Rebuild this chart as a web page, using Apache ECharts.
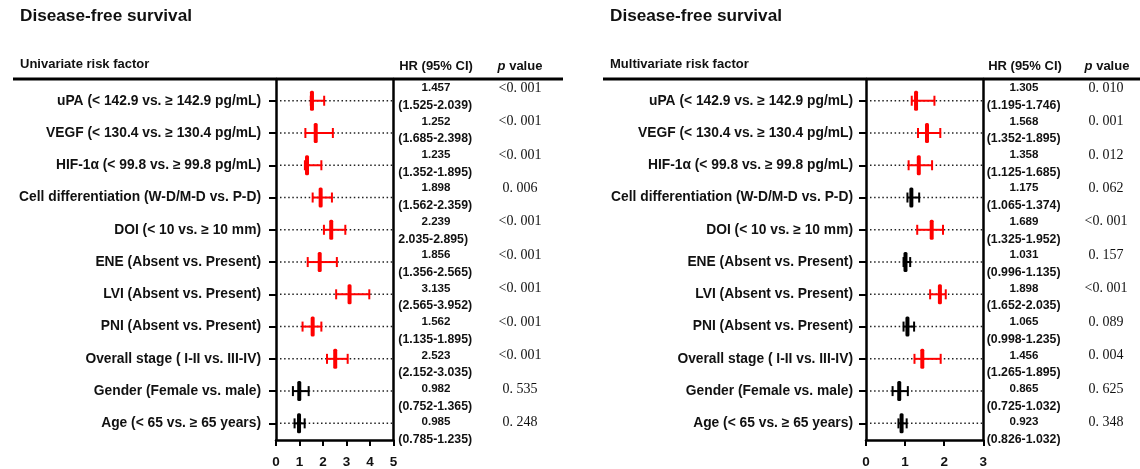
<!DOCTYPE html>
<html>
<head>
<meta charset="utf-8">
<script src="https://cdn.jsdelivr.net/npm/echarts@6/dist/echarts.min.js"></script>
<style>
html,body{margin:0;padding:0;background:#fff;}
#chart{width:1140px;height:469px;}
</style>
</head>
<body>
<div id="chart"></div>
<script>
// ---------- data ----------
const panelTitle = 'Disease-free survival';
const uniHeader = 'Univariate risk factor';
const multiHeader = 'Multivariate risk factor';
const categories = [
  'uPA (< 142.9 vs. ≥ 142.9 pg/mL)',
  'VEGF (< 130.4 vs. ≥ 130.4 pg/mL)',
  'HIF-1α (< 99.8 vs. ≥ 99.8 pg/mL)',
  'Cell differentiation (W-D/M-D vs. P-D)',
  'DOI (< 10 vs. ≥ 10 mm)',
  'ENE (Absent vs. Present)',
  'LVI (Absent vs. Present)',
  'PNI (Absent vs. Present)',
  'Overall stage ( I-II vs. III-IV)',
  'Gender (Female vs. male)',
  'Age (< 65 vs. ≥ 65 years)'
];
// univariate (plotted values)
const uniHR  = [1.53, 1.69, 1.32, 1.90, 2.35, 1.86, 3.13, 1.56, 2.52, 0.99, 0.98];
const uniLo  = [1.48, 1.25, 1.23, 1.56, 2.04, 1.35, 2.56, 1.13, 2.17, 0.72, 0.79];
const uniHi  = [2.05, 2.42, 1.93, 2.38, 2.95, 2.59, 3.97, 1.93, 3.05, 1.39, 1.22];
const uniSig = [1, 1, 1, 1, 1, 1, 1, 1, 1, 0, 0];
const uniHRText = ['1.457','1.252','1.235','1.898','2.239','1.856','3.135','1.562','2.523','0.982','0.985'];
const uniCIText = ['(1.525-2.039)','(1.685-2.398)','(1.352-1.895)','(1.562-2.359)','2.035-2.895)','(1.356-2.565)','(2.565-3.952)','(1.135-1.895)','(2.152-3.035)','(0.752-1.365)','(0.785-1.235)'];
const uniPText = ['<0. 001','<0. 001','<0. 001','0. 006','<0. 001','<0. 001','<0. 001','<0. 001','<0. 001','0. 535','0. 248'];
// multivariate
const multiHR  = [1.28, 1.56, 1.35, 1.16, 1.68, 1.01, 1.89, 1.06, 1.44, 0.85, 0.91];
const multiLo  = [1.17, 1.33, 1.09, 1.06, 1.31, 0.96, 1.64, 0.96, 1.24, 0.68, 0.83];
const multiHi  = [1.75, 1.90, 1.69, 1.36, 1.97, 1.13, 2.04, 1.23, 1.91, 1.07, 1.04];
const multiSig = [1, 1, 1, 0, 1, 0, 1, 0, 1, 0, 0];
const multiHRText = ['1.305','1.568','1.358','1.175','1.689','1.031','1.898','1.065','1.456','0.865','0.923'];
const multiCIText = ['(1.195-1.746)','(1.352-1.895)','(1.125-1.685)','(1.065-1.374)','(1.325-1.952)','(0.996-1.135)','(1.652-2.035)','(0.998-1.235)','(1.265-1.895)','(0.725-1.032)','(0.826-1.032)'];
const multiPText = ['0. 010','0. 001','0. 012','0. 062','<0. 001','0. 157','<0. 001','0. 089','0. 004','0. 625','0. 348'];
const uniTicks = [0, 5, 1];    // min, max, interval
const multiTicks = [0, 3, 1];

// ---------- build ----------
const SANS = 'Liberation Sans, Arial, sans-serif';
const SERIF = 'Liberation Serif, Times New Roman, serif';
const RED = '#ff0000';
const INK = '#111111';

function rows(hr, lo, hi, sig) {
  return hr.map((v, i) => [v, lo[i], hi[i], i, sig[i]]);
}

function makeRender(xMax) {
  return function (params, api) {
    const y = api.value(3);
    const col = api.value(4) ? RED : '#000000';
    const pC = api.coord([api.value(0), y]);
    const pL = api.coord([api.value(1), y]);
    const pH = api.coord([api.value(2), y]);
    const p0 = api.coord([0, y]);
    const pM = api.coord([xMax, y]);
    return {
      type: 'group',
      children: [
        { type: 'line', shape: { x1: p0[0] + 4, y1: p0[1], x2: pM[0] - 1, y2: pM[1] },
          style: { stroke: '#222', lineWidth: 1.5, lineDash: [1.5, 2.6] } },
        { type: 'line', shape: { x1: pL[0], y1: pL[1], x2: pH[0], y2: pH[1] },
          style: { stroke: col, lineWidth: 2 } },
        { type: 'line', shape: { x1: pL[0], y1: pL[1] - 5, x2: pL[0], y2: pL[1] + 5 },
          style: { stroke: col, lineWidth: 2 } },
        { type: 'line', shape: { x1: pH[0], y1: pH[1] - 5, x2: pH[0], y2: pH[1] + 5 },
          style: { stroke: col, lineWidth: 2 } },
        { type: 'rect', shape: { x: pC[0] - 2, y: pC[1] - 10, width: 4, height: 20, r: 1.5 },
          style: { fill: col } }
      ]
    };
  };
}

function panel(base, left, width, ticks, hrText, ciText, pText, hrMargin, ciMargin, pMargin, labelMargin) {
  const grids = [
    { left: left, top: 79, width: width, height: 365 },
    { left: left, top: 84.6, width: width, height: 354.9 },
    { left: left, top: 71.3, width: width, height: 367.7 }
  ];
  const g0 = base, g1 = base + 1, g2 = base + 2;
  const xAxes = [
    { gridIndex: g0, type: 'value', min: ticks[0], max: ticks[1], interval: ticks[2], position: 'bottom',
      axisLine: { show: true, lineStyle: { color: '#000', width: 2.5 } },
      axisTick: { show: true, length: 6, lineStyle: { color: '#000', width: 2 } },
      axisLabel: { show: true, color: INK, fontFamily: SANS, fontWeight: 'bold', fontSize: 13.5, margin: 15 },
      splitLine: { show: false } },
    { gridIndex: g1, type: 'value', min: ticks[0], max: ticks[1], show: false },
    { gridIndex: g2, type: 'value', min: 0, max: 1, show: false }
  ];
  const plainY = { axisTick: { show: false }, axisLabel: { show: false }, splitLine: { show: false } };
  const textY = (data, align, margin, font, size, weight, lh) => ({
    gridIndex: g2, type: 'category', inverse: true, position: 'right', data: data,
    axisLine: { show: false }, axisTick: { show: false }, splitLine: { show: false },
    axisLabel: { show: true, interval: 0, align: align, margin: margin, color: INK,
      fontFamily: font, fontSize: size, fontWeight: weight, lineHeight: lh, verticalAlign: 'middle',
      formatter: lh ? (v => '\n' + v) : (v => v) }
  });
  const yAxes = [
    Object.assign({ gridIndex: g0, type: 'value', min: 0, max: 1, position: 'left',
      axisLine: { show: true, lineStyle: { color: '#000', width: 2.5 } } }, plainY),
    Object.assign({ gridIndex: g0, type: 'value', min: 0, max: 1, position: 'right',
      axisLine: { show: true, lineStyle: { color: '#000', width: 2.5 } } }, plainY),
    { gridIndex: g1, type: 'category', inverse: true, data: categories, position: 'left',
      axisLine: { show: false },
      axisTick: { show: true, alignWithLabel: true, length: 7, lineStyle: { color: '#000', width: 2 } },
      axisLabel: { show: true, interval: 0, margin: labelMargin, color: INK, fontFamily: SANS,
        fontWeight: 'bold', fontSize: 13.8 },
      splitLine: { show: false } },
    textY(hrText, 'center', hrMargin, SANS, 11.6, 'bold', 0),
    textY(ciText, 'left', ciMargin, SANS, 12.3, 'bold', 35),
    textY(pText, 'center', pMargin, SERIF, 14, 'normal', 0)
  ];
  return { grids, xAxes, yAxes };
}

const L = panel(0, 276, 117.5, uniTicks, uniHRText, uniCIText, uniPText, 42.5, 4.8, 126.5, 15);
const R = panel(3, 866, 117.3, multiTicks, multiHRText, multiCIText, multiPText, 40.7, 3.4, 122.7, 13);

const option = {
  backgroundColor: '#fff',
  animation: false,
  grid: L.grids.concat(R.grids),
  xAxis: L.xAxes.concat(R.xAxes),
  yAxis: L.yAxes.concat(R.yAxes),
  series: [
    { type: 'custom', xAxisIndex: 1, yAxisIndex: 2, renderItem: makeRender(uniTicks[1]),
      encode: { x: [0, 1, 2], y: 3 }, data: rows(uniHR, uniLo, uniHi, uniSig), clip: false },
    { type: 'custom', xAxisIndex: 4, yAxisIndex: 8, renderItem: makeRender(multiTicks[1]),
      encode: { x: [0, 1, 2], y: 3 }, data: rows(multiHR, multiLo, multiHi, multiSig), clip: false }
  ],
  graphic: [
    { type: 'text', left: 20, top: 8, style: { text: panelTitle, font: 'bold 17.2px ' + SANS, fill: INK } },
    { type: 'text', left: 610, top: 8, style: { text: panelTitle, font: 'bold 17.2px ' + SANS, fill: INK } },
    { type: 'text', left: 20, top: 58, style: { text: uniHeader, font: 'bold 13px ' + SANS, fill: INK } },
    { type: 'text', left: 610, top: 58, style: { text: multiHeader, font: 'bold 13px ' + SANS, fill: INK } },
    { type: 'text', x: 436, y: 66, style: { text: 'HR (95% CI)', font: 'bold 13px ' + SANS, fill: INK, align: 'center', verticalAlign: 'middle' } },
    { type: 'text', x: 1025, y: 66, style: { text: 'HR (95% CI)', font: 'bold 13px ' + SANS, fill: INK, align: 'center', verticalAlign: 'middle' } },
    { type: 'text', x: 520, y: 66, style: { text: '{i|p} value', font: 'bold 13px ' + SANS, fill: INK, align: 'center', verticalAlign: 'middle',
      rich: { i: { fontStyle: 'italic', fontWeight: 'bold', fontSize: 13, fontFamily: SANS } } } },
    { type: 'text', x: 1107, y: 66, style: { text: '{i|p} value', font: 'bold 13px ' + SANS, fill: INK, align: 'center', verticalAlign: 'middle',
      rich: { i: { fontStyle: 'italic', fontWeight: 'bold', fontSize: 13, fontFamily: SANS } } } },
    { type: 'line', shape: { x1: 13, y1: 79, x2: 563, y2: 79 }, style: { stroke: '#000', lineWidth: 3 } },
    { type: 'line', shape: { x1: 603, y1: 79, x2: 1140, y2: 79 }, style: { stroke: '#000', lineWidth: 3 } }
  ]
};

const chart = echarts.init(document.getElementById('chart'), null, { renderer: 'canvas' });
chart.setOption(option);
</script>
</body>
</html>
